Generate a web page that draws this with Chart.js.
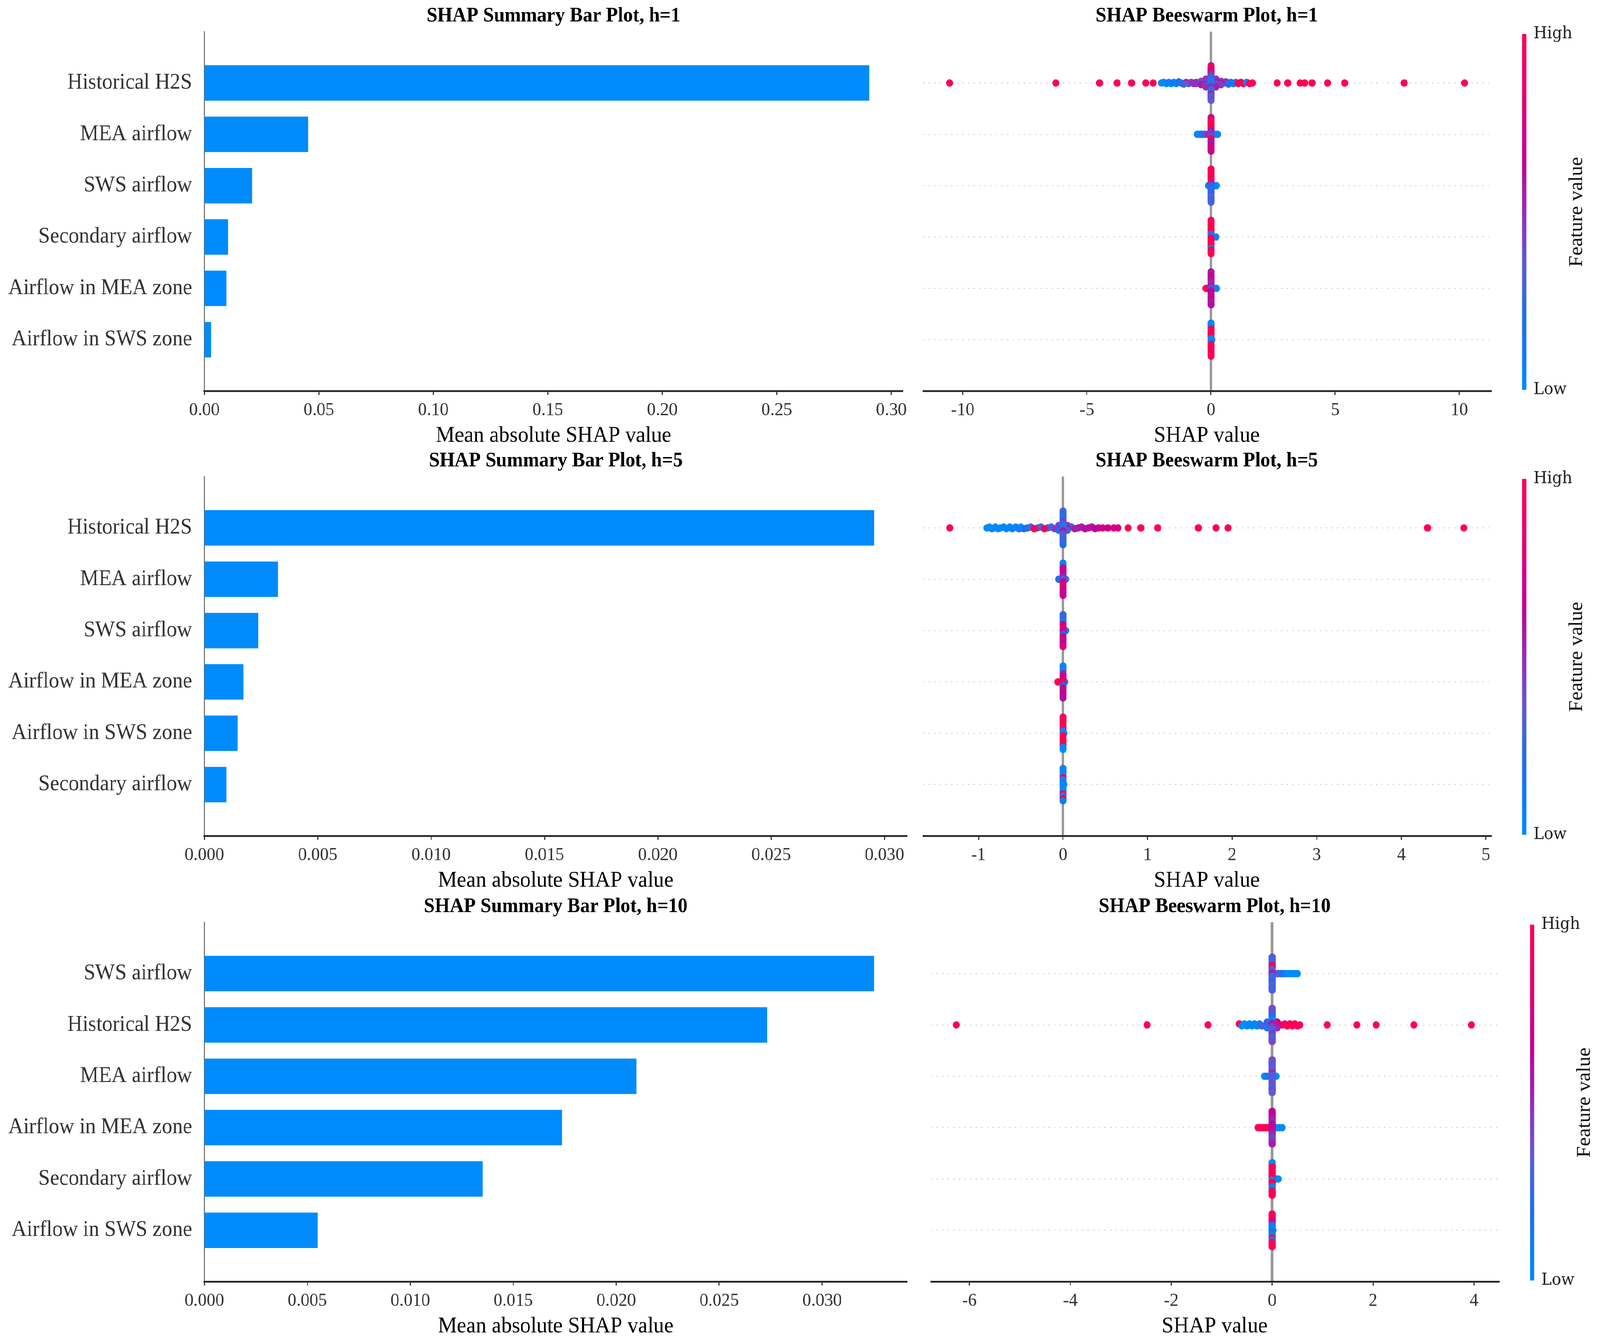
<!DOCTYPE html>
<html><head><meta charset="utf-8">
<script src="https://cdn.jsdelivr.net/npm/chart.js"></script>
<style>
html,body{margin:0;padding:0;background:#fff;overflow:hidden;}
#page{position:absolute;left:0;top:0;width:4291px;height:3433px;transform-origin:0 0;background:#fff;}
canvas{position:absolute;}
</style></head><body>
<div id="page">
<canvas id="bar1" width="2450" height="1153" style="left:0;top:0"></canvas>
<canvas id="bee1" width="1841" height="1153" style="left:2450px;top:0"></canvas>
<canvas id="bar5" width="2450" height="1153" style="left:0;top:1139px"></canvas>
<canvas id="bee5" width="1841" height="1153" style="left:2450px;top:1139px"></canvas>
<canvas id="bar10" width="2450" height="1153" style="left:0;top:2280px"></canvas>
<canvas id="bee10" width="1841" height="1153" style="left:2450px;top:2280px"></canvas>
</div>
<script>
const FONT = '"Liberation Serif", "Times New Roman", serif';

// ---- Bar plot data ----
const barFeaturesH1 = ["Historical H2S","MEA airflow","SWS airflow","Secondary airflow","Airflow in MEA zone","Airflow in SWS zone"];
const barValuesH1 = [0.2904,0.0454,0.0209,0.0104,0.0097,0.0030];
const barTicksH1 = [0,0.05,0.10,0.15,0.20,0.25,0.30];
const barTickLabelsH1 = ["0.00","0.05","0.10","0.15","0.20","0.25","0.30"];

const barFeaturesH5 = ["Historical H2S","MEA airflow","SWS airflow","Airflow in MEA zone","Airflow in SWS zone","Secondary airflow"];
const barValuesH5 = [0.02955,0.00325,0.00237,0.00173,0.00147,0.00098];
const barTicksH5 = [0,0.005,0.010,0.015,0.020,0.025,0.030];
const barTickLabelsH5 = ["0.000","0.005","0.010","0.015","0.020","0.025","0.030"];

const barFeaturesH10 = ["SWS airflow","Historical H2S","MEA airflow","Airflow in MEA zone","Secondary airflow","Airflow in SWS zone"];
const barValuesH10 = [0.03253,0.02733,0.02099,0.01736,0.01352,0.00551];
const barTicksH10 = [0,0.005,0.010,0.015,0.020,0.025,0.030];
const barTickLabelsH10 = ["0.000","0.005","0.010","0.015","0.020","0.025","0.030"];

// ---- Beeswarm data: per row, [SHAP value, normalised feature value] ----
const swarmH1 = [
 [ // Historical H2S
  [0,0.55],[0,0.9],[0,1],[0,0.8],[0,0.95],[0,0.7],[0,1],[0,0.6],[0,0.45],[0,0.5],[0,0.35],[0,0.4],[0,0.2],[0,0.3],[0,0.1],[0,0],
  [0,0.05],[0,0.3],[0,0.45],[0,0.2],[0,0.6],[0,0.35],[0,0.3],[0,0.25],[0,0.2],[0,0.3],[0,0.85],[0,0.4],[0,0.25],[0,0.3],[0,0.45],[0,0.35],
  [-0.2,0.5],[-0.2,0.4],[-0.2,0.55],[-0.2,0.3],[-0.2,0.45],[-0.2,0.6],[-0.2,0.35],[-0.2,0.5],
  [0.2,0.45],[0.2,0.55],[0.2,0.4],[0.2,0.6],[0.2,0.5],[0.2,0.3],[0.2,0.45],[0.2,0.55],
  [-0.4,0.5],[-0.4,0.35],[-0.4,0.45],[-0.4,0.55],[0.4,0.5],[0.4,0.4],[0.4,0.6],[0.4,0.45],
  [-0.6,0.4],[-0.6,0.5],[0.6,0.5],[0.6,0.45],
  [-2.0,0],[-1.9,0],[-1.8,0],[-1.7,0.05],[-1.6,0],[-1.5,0.1],[-1.4,0.05],[-1.3,0.15],[-1.2,0.1],[-1.1,0.3],[-1.0,1],[-0.9,0.35],[-0.8,0.45],[-0.7,0.5],
  [0.7,0.2],[0.8,0.1],[0.9,0.05],[1.0,0.3],[1.1,1],[1.2,1],[1.3,0.9],[1.44,0],[1.55,1],[1.67,1],
  [-10.53,1],[-6.25,1],[-4.49,1],[-3.78,1],[-3.2,1],[-2.63,1],[-2.33,1],
  [2.66,1],[3.09,1],[3.59,1],[3.77,1],[4.07,1],[4.69,1],[5.38,1],[7.78,1],[10.21,1]
 ],
 [ // MEA airflow
  [0,0.7],[0,0.6],[0,0.9],[0,1],[0,1],[0,0.95],[0,1],[0,1],[0,0.6],[0,0.55],[0,0.45],[0,0.5],[0,0.3],[0,0.95],[0,1],[0,0.6],
  [0,0.55],[0,0.6],[0,0.7],[0,0.75],[0,0.8],[0,0.7],
  [-0.55,0],[-0.48,0],[-0.42,0.05],[-0.35,0.1],[-0.28,0.25],[-0.2,0.4],[-0.1,0.5],[0.1,0.2],[0.2,0.05],[0.27,0]
 ],
 [ // SWS airflow
  [0,1],[0,1],[0,0.95],[0,1],[0,1],[0,0.9],[0,1],[0,1],[0,0.55],[0,0.25],[0,0.2],[0,0.25],[0,0.3],[0,0.2],[0,0.25],[0,0.35],
  [0,0.3],[0,0.25],[0,0.3],
  [-0.1,0.1],[0.15,0],[0.22,0]
 ],
 [ // Secondary airflow
  [0,1],[0,1],[0,1],[0,1],[0,0.95],[0,1],[0,1],[0,1],[0,0.1],[0,0.05],[0,0.9],[0,1],[0,1],[0,1],[0,1],[0,1],
  [0,0.05],[0,1],[0,1],[0,1],
  [0.1,0],[0.2,0.05]
 ],
 [ // Airflow in MEA zone
  [0,0.6],[0,0.55],[0,0.65],[0,0.7],[0,0.6],[0,0.55],[0,0.5],[0,0.6],[0,0.3],[0,0.6],[0,0.65],[0,0.6],[0,0.7],[0,0.65],[0,0.6],[0,0.55],[0,0.6],
  [-0.2,1],[-0.15,1],[0.12,0],[0.22,0.05]
 ],
 [ // Airflow in SWS zone
  [0,0.1],[0,0],[0,0.05],[0,1],[0,1],[0,0.95],[0,1],[0,1],[0,0.05],[0,0],[0,0.1],[0,1],[0,1],[0,0.95],[0,1],[0,1],[0,1],[0,1],
  [0.03,0]
 ]
];

const swarmH5 = [
 [ // Historical H2S
  [0,0.3],[0,0.25],[0,0.2],[0,0.3],[0,0.1],[0,0.2],[0,0.4],[0,0.5],[0,0.3],[0,0.1],[0,0],[0,0.3],[0,0.5],[0,0.6],[0,0.4],[0,0.3],
  [0,0.2],[0,0.35],[0,0.4],[0,0.1],[0,0.3],[0,0.2],
  [-0.05,0.4],[-0.05,0.3],[-0.05,0.5],[-0.05,0.2],[0.05,0.5],[0.05,0.4],[0.05,0.6],[0.05,0.3],
  [-1.34,1],
  [-0.9,0],[-0.87,0],[-0.84,0],[-0.8,0],[-0.77,0],[-0.74,0],[-0.7,0.05],[-0.67,0],[-0.63,0],[-0.6,0.1],[-0.56,0],[-0.52,0.15],
  [-0.5,0],[-0.46,0.2],[-0.42,0.25],[-0.38,0.3],[-0.34,1],[-0.3,0.35],[-0.26,0.3],[-0.22,0.9],[-0.18,0.4],[-0.14,0.3],[-0.1,0.45],
  [0.1,0.2],[0.14,0.55],[0.18,0.6],[0.22,0.55],[0.26,0.6],[0.3,0.65],[0.34,0.6],[0.38,0.65],[0.42,0.7],[0.47,0.75],[0.53,0.7],
  [0.6,0.8],[0.65,0.75],[0.77,1],[0.92,1],[1.12,1],[1.6,1],[1.81,1],[1.95,1],[4.31,1],[4.74,1]
 ],
 [ // MEA airflow
  [0,0.1],[0,0],[0,0.6],[0,0.7],[0,0.65],[0,0.6],[0,0.55],[0,0.3],[0,0.6],[0,0.7],[0,0.75],[0,0.8],[0,0.7],[0,0.65],[0,0.7],
  [-0.05,0.2],[0.03,0.3]
 ],
 [ // SWS airflow
  [0,0.3],[0,0.2],[0,0.3],[0,0.1],[0,0.7],[0,0.75],[0,0.8],[0,0.7],[0,0.2],[0,0.7],[0,0.75],[0,0.6],[0,0.65],[0,0.8],
  [0.03,0.1]
 ],
 [ // Airflow in MEA zone
  [0,0],[0,0.1],[0,0],[0,0.5],[0,0.6],[0,0.7],[0,0.9],[0,1],[0,0.2],[0,0.7],[0,0.6],[0,0.7],[0,0.65],[0,0.6],
  [-0.06,1],[0.02,0]
 ],
 [ // Airflow in SWS zone
  [0,1],[0,1],[0,1],[0,0.95],[0,1],[0,1],[0,0.1],[0,0],[0,1],[0,1],[0,1],[0,1],[0,0.9],[0,0.05],[0,0],
  [0.01,0]
 ],
 [ // Secondary airflow
  [0,0.1],[0,0],[0,0.05],[0,0],[0,1],[0,0],[0,0.1],[0,0],[0,0.05],[0,0],[0,0],[0,1],[0,0],[0,0.9],[0,0.1],
  [0.01,0]
 ]
];

const swarmH10 = [
 [ // SWS airflow
  [0,0.35],[0,0.3],[0,0.25],[0,0.3],[0,0.9],[0,1],[0,0.35],[0,0.3],[0,0.6],[0,0.3],[0,0.25],[0,0.3],[0,0.2],[0,0.3],[0,0.35],[0,0.25],[0,0.3],
  [0.05,0.4],[0.08,0.4],[0.11,0.35],[0.14,0.35],[0.17,0.3],[0.2,0.2],[0.23,0.15],[0.27,0.1],[0.3,0],[0.34,0],[0.38,0],[0.42,0],[0.46,0],[0.5,0]
 ],
 [ // Historical H2S
  [0,0.4],[0,0.35],[0,0.45],[0,0.3],[0,0.2],[0,0.1],[0,0],[0,0.3],[0,0.6],[0,0.5],[0,0.4],[0,0.3],[0,0.35],[0,0.45],[0,0.4],[0,0.3],[0,0.35],[0,0.4],
  [-0.1,0.3],[-0.1,0.2],[-0.1,0.4],[-0.1,0.1],[0.1,0.6],[0.1,0.7],[0.1,0.8],[0.1,0.5],
  [-6.26,1],[-2.48,1],[-1.27,1],[-0.65,1],
  [-0.6,0],[-0.55,0],[-0.5,0],[-0.45,0],[-0.4,0],[-0.35,0.05],[-0.3,0],[-0.25,0.1],[-0.2,0.3],
  [0.2,0.9],[0.25,1],[0.3,1],[0.35,0.9],[0.4,1],[0.45,1],[0.5,1],[0.55,1],
  [1.09,1],[1.68,1],[2.06,1],[2.81,1],[3.95,1]
 ],
 [ // MEA airflow
  [0,0.4],[0,0.35],[0,0.4],[0,0.3],[0,0.35],[0,0.4],[0,0.5],[0,0.3],[0,0.4],[0,0.35],[0,0.3],[0,0.4],[0,0.35],[0,0.3],[0,0.4],[0,0.35],
  [-0.15,0],[-0.1,0.1],[0.08,0]
 ],
 [ // Airflow in MEA zone
  [0,0.6],[0,0.65],[0,0.7],[0,0.6],[0,0.55],[0,0.5],[0,0.65],[0,0.6],[0,0.7],[0,0.6],[0,0.55],[0,0.5],[0,0.45],[0,0.4],[0,0.5],[0,0.55],
  [-0.28,1],[-0.24,1],[-0.2,1],[-0.16,1],[-0.12,1],[-0.08,1],[-0.04,1],[0.08,0.1],[0.14,0],[0.2,0]
 ],
 [ // Secondary airflow
  [0,0.05],[0,0],[0,1],[0,1],[0,0.95],[0,1],[0,0.9],[0,1],[0,0],[0,1],[0,1],[0,0.1],[0,0],[0,1],[0,1],[0,0.95],
  [0.08,0],[0.12,0]
 ],
 [ // Airflow in SWS zone
  [0,1],[0,1],[0,0.95],[0,0.9],[0,0.6],[0,0.3],[0,0.1],[0,0],[0,0.2],[0,0.1],[0,0],[0,1],[0,0.05],[0,0.9],[0,1],[0,1],
  [0.02,0]
 ]
];

const beeTicksH1 = [-10,-5,0,5,10];
const beeTicksH5 = [-1,0,1,2,3,4,5];
const beeTicksH10 = [-6,-4,-2,0,2,4];

// fit the 4291x3433 drawing into whatever viewport the browser really has
(function(){
  const sx = window.innerWidth/4291, sy = window.innerHeight/3433;
  if (Math.abs(sx-1)>0.001 || Math.abs(sy-1)>0.001)
    document.getElementById('page').style.transform = 'scale('+sx+','+sy+')';
})();

// ---- colour map (low -> high) ----
const CMAP = [[0,[0,138,250]],[0.2,[30,110,235]],[0.35,[95,90,215]],[0.45,[130,60,195]],[0.55,[165,30,170]],[0.65,[192,0,150]],[0.8,[225,0,115]],[1,[255,0,82]]];
function cmap(t){
  for(let i=1;i<CMAP.length;i++){
    if(t<=CMAP[i][0]){
      const [t0,c0]=CMAP[i-1],[t1,c1]=CMAP[i];
      const f=(t-t0)/(t1-t0);
      return 'rgb('+c0.map((v,k)=>Math.round(v+(c1[k]-v)*f)).join(',')+')';
    }
  }
  return 'rgb(255,0,82)';
}

const NBINS=100, ROW_H=0.4;
function layoutSwarm(rows){
  const items=[];
  rows.forEach((row,r)=>{
    const xs=row.map(p=>p[0]);
    const mn=Math.min(...xs), mx=Math.max(...xs);
    const groups=new Map();
    row.forEach((p,i)=>{
      const q=Math.round(NBINS*(p[0]-mn)/(mx-mn+1e-8));
      if(!groups.has(q)) groups.set(q,[]);
      groups.get(q).push(i);
    });
    let maxHalf=0;
    groups.forEach(g=>{maxHalf=Math.max(maxHalf,(g.length-1)/2);});
    const step=0.9*ROW_H/(maxHalf+1);
    groups.forEach(g=>g.forEach((idx,k)=>{
      items.push({n:g.length, x:row[idx][0], y:r+(k-(g.length-1)/2)*step, c:cmap(row[idx][1])});
    }));
  });
  items.sort((a,b)=>a.n-b.n);
  return {pts:items.map(o=>({x:o.x,y:o.y})), colors:items.map(o=>o.c)};
}

const panelTitle={
  id:'panelTitle',
  afterDraw(chart){
    const o=chart.config.options.panelTitleText;
    const ctx=chart.ctx, a=chart.chartArea;
    ctx.save();
    ctx.font='bold 52px '+FONT; ctx.fillStyle='#000';
    ctx.textAlign='center'; ctx.textBaseline='middle';
    ctx.fillText(o,(a.left+a.right)/2,a.top-39);
    ctx.restore();
  }
};
const colorbar={
  id:'colorbar',
  afterDraw(chart){
    const o=chart.config.options.colorbarPos;
    const ctx=chart.ctx, a=chart.chartArea;
    const top=a.top+6, bot=a.bottom-3, w=11, x=o.x;
    const g=ctx.createLinearGradient(0,bot,0,top);
    CMAP.forEach(([t,c])=>g.addColorStop(t,'rgb('+c.join(',')+')'));
    ctx.save();
    ctx.fillStyle=g; ctx.fillRect(x-w/2,top,w,bot-top);
    ctx.fillStyle='#222'; ctx.font='42px "DejaVu Serif", serif'; ctx.textAlign='left'; ctx.textBaseline='middle';
    ctx.fillText('High',x+w/2+19,top);
    ctx.fillText('Low',x+w/2+19,bot);
    ctx.translate(x+141,(top+bot)/2); ctx.rotate(-Math.PI/2);
    ctx.textAlign='center'; ctx.font='52px '+FONT; ctx.fillStyle='#111';
    ctx.fillText('Feature value',0,0);
    ctx.restore();
  }
};

function xTitle(text){
  return {display:true,text:text,color:'#000',font:{family:FONT,size:57,lineHeight:1.2},padding:{top:0,bottom:0}};
}

function makeBar(id,labels,values,xmax,ticks,tickLabels,rightPad,title){
  new Chart(document.getElementById(id),{
    type:'bar',
    data:{labels:['',...labels,''],datasets:[{data:[null,...values,null],backgroundColor:'#008bfb',borderWidth:0,barPercentage:0.69,categoryPercentage:1}]},
    options:{
      indexAxis:'y',responsive:false,animation:false,devicePixelRatio:1,
      panelTitleText:title,
      layout:{padding:{left:0,right:rightPad,top:81,bottom:3}},
      plugins:{legend:{display:false},tooltip:{enabled:false}},
      scales:{
        y:{type:'category',offset:false,grid:{display:false,drawTicks:false,offset:false},
           border:{display:true,color:'#666',width:2.5},
           ticks:{font:{family:FONT,size:56},color:'#333',padding:33,autoSkip:false},
           afterFit:s=>{s.width=548;}},
        x:{type:'linear',min:0,max:xmax,
           afterBuildTicks:s=>{s.ticks=ticks.map(v=>({value:v}));},
           grid:{display:true,drawOnChartArea:false,drawTicks:true,tickLength:10,tickColor:'#333',tickWidth:3},
           border:{display:true,color:'#222',width:4.5},
           ticks:{font:{family:FONT,size:47,lineHeight:1.2},color:'#333',padding:11,maxRotation:0,autoSkip:false,callback:(v,i)=>tickLabels[i]},
           title:xTitle('Mean absolute SHAP value'),
           afterFit:s=>{s.height=149;}}
      }
    },
    plugins:[panelTitle]
  });
}

function makeSwarm(id,rows,xmin,xmax,ticks,padL,padR,cbX,title){
  const {pts,colors}=layoutSwarm(rows);
  new Chart(document.getElementById(id),{
    type:'scatter',
    data:{datasets:[{data:pts,pointBackgroundColor:colors,pointBorderWidth:0,pointRadius:9.5,pointHoverRadius:9.5}]},
    options:{
      responsive:false,animation:false,devicePixelRatio:1,
      panelTitleText:title, colorbarPos:{x:cbX},
      layout:{padding:{left:padL,right:padR,top:81,bottom:3}},
      plugins:{legend:{display:false},tooltip:{enabled:false}},
      scales:{
        y:{type:'linear',min:-1,max:6,reverse:true,
           afterBuildTicks:s=>{s.ticks=[0,1,2,3,4,5].map(v=>({value:v}));},
           ticks:{display:false},
           grid:{color:'#c8c8c8',lineWidth:2.5,drawTicks:false},
           border:{display:false,dash:[3,12]},
           afterFit:s=>{s.width=0;}},
        x:{type:'linear',min:xmin,max:xmax,
           afterBuildTicks:s=>{s.ticks=ticks.map(v=>({value:v}));},
           grid:{display:true,drawOnChartArea:true,drawTicks:true,tickLength:10,tickColor:'#333',tickWidth:3,
                 color:c=>(c.tick&&c.tick.value===0)?'#999999':'rgba(0,0,0,0)',lineWidth:7},
           border:{display:true,color:'#222',width:4.5},
           ticks:{font:{family:FONT,size:47,lineHeight:1.2},color:'#333',padding:11,maxRotation:0,autoSkip:false,callback:v=>String(v)},
           title:xTitle('SHAP value'),
           afterFit:s=>{s.height=149;}}
      }
    },
    plugins:[panelTitle,colorbar]
  });
}

makeBar('bar1',barFeaturesH1,barValuesH1,0.305,barTicksH1,barTickLabelsH1,29,'SHAP Summary Bar Plot, h=1');
makeBar('bar5',barFeaturesH5,barValuesH5,0.0310,barTicksH5,barTickLabelsH5,17,'SHAP Summary Bar Plot, h=5');
makeBar('bar10',barFeaturesH10,barValuesH10,0.03413,barTicksH10,barTickLabelsH10,17,'SHAP Summary Bar Plot, h=10');
makeSwarm('bee1',swarmH1,-11.59,11.25,beeTicksH1,26,294,1638,'SHAP Beeswarm Plot, h=1');
makeSwarm('bee5',swarmH5,-1.653,5.053,beeTicksH5,26,294,1638,'SHAP Beeswarm Plot, h=5');
makeSwarm('bee10',swarmH10,-6.76,4.48,beeTicksH10,47,273,1659,'SHAP Beeswarm Plot, h=10');
</script>
</body></html>
